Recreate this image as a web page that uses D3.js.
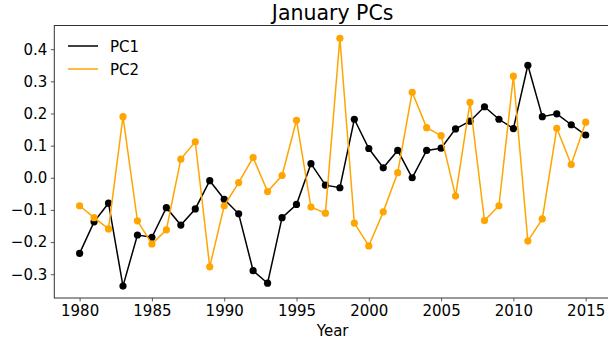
<!DOCTYPE html>
<html><head><meta charset="utf-8">
<script src="https://cdn.jsdelivr.net/npm/d3@7"></script>
<style>body{margin:0;background:#fff}svg{display:block}text{font-family:"DejaVu Sans",sans-serif}</style>
</head><body><svg id="c" width="608" height="341"></svg>
<script>
const years = d3.range(1980, 2016);
const pc1 = [-0.235,-0.137,-0.079,-0.337,-0.178,-0.185,-0.093,-0.147,-0.097,-0.009,-0.067,-0.112,
  -0.289,-0.328,-0.124,-0.083,0.044,-0.023,-0.031,0.182,0.091,0.031,0.085,0.000,
  0.085,0.092,0.152,0.176,0.221,0.182,0.153,0.350,0.190,0.199,0.165,0.133];
const pc2 = [-0.087,-0.124,-0.159,0.190,-0.134,-0.206,-0.162,0.058,0.112,-0.277,-0.087,-0.015,
  0.063,-0.043,0.007,0.179,-0.091,-0.110,0.434,-0.141,-0.212,-0.106,0.016,0.266,
  0.156,0.131,-0.057,0.235,-0.133,-0.087,0.316,-0.197,-0.128,0.154,0.041,0.173];
const xTicks = [1980,1985,1990,1995,2000,2005,2010,2015];
const yTicks = [-0.3,-0.2,-0.1,0.0,0.1,0.2,0.3,0.4];
const seriesNames = ["PC1","PC2"];
const colors = ["#000000","#FFA500"];

const svg = d3.select("#c");
const L=54.3, R=611, T=25.5, B=298;
const x = d3.scaleLinear().domain([1978.25, 2016.75]).range([L, R]);
const y = d3.scaleLinear().domain([-0.374, 0.4737]).range([B, T]);

const fmt = v => (v<0?"\u2212":"") + Math.abs(v).toFixed(1);

const gx = svg.append("g").attr("transform",`translate(0,${B})`)
  .call(d3.axisBottom(x).tickValues(xTicks).tickFormat(d3.format("d")).tickSize(3.5).tickPadding(3.5));
const gy = svg.append("g").attr("transform",`translate(${L},0)`)
  .call(d3.axisLeft(y).tickValues(yTicks).tickFormat(fmt).tickSize(3.5).tickPadding(3.5));
[gx,gy].forEach(g=>{
  g.selectAll("text").attr("font-size",15).attr("fill","#000").attr("font-family","DejaVu Sans");
  g.selectAll("line").attr("stroke","#333").attr("stroke-width",0.8);
  g.select(".domain").remove();
});
svg.append("rect").attr("x",L).attr("y",T).attr("width",R-L).attr("height",B-T)
  .attr("fill","none").attr("stroke","#333").attr("stroke-width",1);

const data = [pc1, pc2];
data.forEach((vals,i)=>{
  const pts = years.map((yr,j)=>[yr, vals[j]]);
  svg.append("path").datum(pts)
    .attr("d", d3.line().x(d=>x(d[0])).y(d=>y(d[1])))
    .attr("fill","none").attr("stroke",colors[i]).attr("stroke-width",1.5);
  svg.append("g").selectAll("circle").data(pts).join("circle")
    .attr("cx",d=>x(d[0])).attr("cy",d=>y(d[1])).attr("r",3.6).attr("fill",colors[i]);
});

// legend
seriesNames.forEach((n,i)=>{
  const ly = 46 + i*23;
  svg.append("line").attr("x1",68).attr("x2",98).attr("y1",ly).attr("y2",ly)
    .attr("stroke",colors[i]).attr("stroke-width",1.5);
  svg.append("text").attr("x",110).attr("y",ly+5.5).attr("font-size",15).text(n);
});

svg.append("text").attr("x",(L+R)/2).attr("y",20).attr("text-anchor","middle")
  .attr("font-size",20.5).text("January PCs");
svg.append("text").attr("x",(L+R)/2).attr("y",336).attr("text-anchor","middle")
  .attr("font-size",15).text("Year");
</script></body></html>
